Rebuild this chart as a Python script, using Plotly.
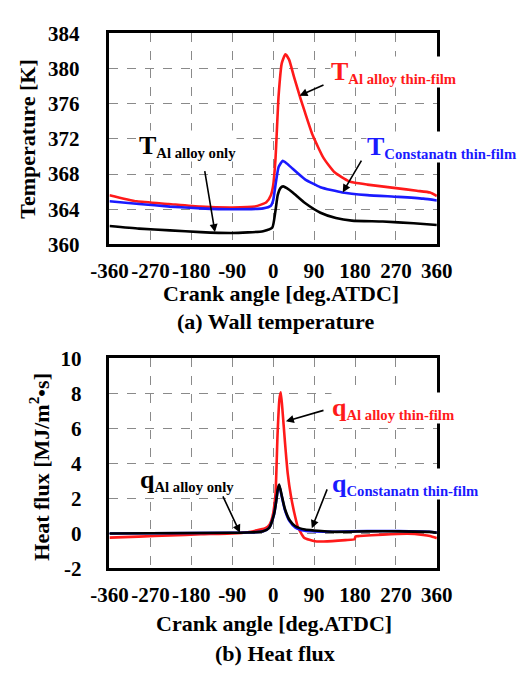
import plotly.graph_objects as go

# ---------------- data ----------------
crank_ticks = [-360, -270, -180, -90, 0, 90, 180, 270, 360]
crank_text = ["-360", "-270", "-180", "-90", "0", "90", "180", "270", "360"]
temp_ticks = [360, 364, 368, 372, 376, 380, 384]
flux_ticks = [-2, 0, 2, 4, 6, 8, 10]
flux_text = ["-2", "0", "2", "4", "6", "8", "10"]

# (a) wall temperature [K]
ang_T_al_film = [-360, -300, -230, -160, -90, -40, -15, -5, 0, 5, 12, 19, 27, 35, 46, 60, 70, 87,
                 111, 135, 166, 180, 207, 270, 316, 345, 360]
T_al_film = [365.6, 364.9, 364.6, 364.3, 364.2, 364.3, 364.8, 365.6, 366.7, 369.6, 376.9, 380.6, 381.6,
             381.0, 379.0, 376.6, 375.0, 372.4, 369.8, 368.2, 367.2, 367.0, 366.8, 366.4, 366.1, 365.9, 365.5]

ang_T_const_film = [-360, -295, -227, -159, -91, -22, -5, 0, 5, 12, 21, 30, 43, 70, 104, 152, 207, 275,
                    330, 360]
T_const_film = [364.9, 364.6, 364.3, 364.1, 364.0, 364.1, 364.4, 365.0, 366.7, 368.8, 369.5, 369.2, 368.6,
                367.4, 366.5, 365.9, 365.6, 365.4, 365.2, 365.0]

ang_T_al_only = [-360, -295, -227, -159, -91, -22, -2, 5, 10, 16, 22, 30, 43, 70, 104, 138, 173, 241,
                 309, 360]
T_al_only = [362.1, 361.8, 361.6, 361.4, 361.3, 361.5, 361.9, 363.8, 365.6, 366.4, 366.6, 366.4, 365.9,
             364.7, 363.6, 363.0, 362.7, 362.6, 362.4, 362.2]

# (b) heat flux [MJ/m2 s]
ang_q_al_film = [-360, -296, -227, -159, -91, -56, -29, -17, -8, -2, 5, 9.6, 13.7, 16.8, 20.9, 25.7, 32,
                 39, 46, 54, 68, 92, 111, 159, 179, 181, 190, 241, 296, 330, 345, 360]
q_al_film = [-0.24, -0.18, -0.11, -0.05, 0.0, 0.07, 0.22, 0.3, 0.5, 0.9, 2.2, 5.6, 7.65, 8.05, 6.9, 5.3,
             3.43, 2.15, 1.23, 0.4, -0.24, -0.45, -0.46, -0.38, -0.33, -0.18, -0.15, -0.07, -0.02, -0.09,
             -0.15, -0.27]

ang_q_const_film = [-360, -91, -56, -22, -9, 2, 7, 10, 13.3, 19, 25.7, 36, 49, 70, 90, 138, 207, 275,
                    343, 360]
q_const_film = [0.0, 0.04, 0.05, 0.12, 0.31, 1.1, 1.9, 2.45, 2.75, 2.1, 1.35, 0.7, 0.33, 0.15, 0.12, 0.1,
                0.14, 0.14, 0.1, 0.05]

ang_q_al_only = [-360, -91, -56, -22, -9, 2, 7, 10, 13.3, 19, 25.7, 36, 49, 70, 90, 138, 207, 275, 343,
                 360]
q_al_only = [0.0, 0.04, 0.05, 0.12, 0.31, 1.1, 1.9, 2.5, 2.79, 2.15, 1.41, 0.77, 0.41, 0.22, 0.17, 0.09,
             0.12, 0.12, 0.09, 0.04]

RED = "#ff1a1a"
BLUE = "#1a1aff"
BLACK = "#000000"
SERIF = "Liberation Serif, Times New Roman, serif"

fig = go.Figure()


def add_line(x, y, color, xa, ya):
    fig.add_trace(go.Scatter(x=x, y=y, mode="lines", xaxis=xa, yaxis=ya, showlegend=False,
                             line=dict(color=color, width=2.6, shape="spline", smoothing=0.5),
                             hoverinfo="skip"))


add_line(ang_T_al_film, T_al_film, RED, "x", "y")
add_line(ang_T_const_film, T_const_film, BLUE, "x", "y")
add_line(ang_T_al_only, T_al_only, BLACK, "x", "y")
add_line(ang_q_al_film, q_al_film, RED, "x2", "y2")
add_line(ang_q_const_film, q_const_film, BLUE, "x2", "y2")
add_line(ang_q_al_only, q_al_only, BLACK, "x2", "y2")

W, H = 520, 675
x_dom = [97 / W, 448 / W]
top_dom = [1 - 241 / H, 1 - 22 / H]
bot_dom = [1 - 577 / H, 1 - 359 / H]

tick_font = dict(family=SERIF, size=21, color="black", weight="bold")
axis_common = dict(showline=True, mirror=True, linecolor="black", linewidth=2.5,
                   showgrid=True, gridcolor="#8a8a8a", gridwidth=1, griddash="dash",
                   zeroline=False, ticks="", tickfont=tick_font)

fig.update_layout(
    width=W, height=H,
    margin=dict(l=0, r=0, t=0, b=0),
    paper_bgcolor="white", plot_bgcolor="white",
    xaxis=dict(domain=x_dom, range=[-360, 360], tickvals=crank_ticks, ticktext=crank_text,
               tickangle=0, anchor="y", ticklabelstandoff=6, **axis_common),
    yaxis=dict(domain=top_dom, range=[360, 384], tickvals=temp_ticks, anchor="x",
               ticklabelstandoff=23, **axis_common),
    xaxis2=dict(domain=x_dom, range=[-360, 360], tickvals=crank_ticks, ticktext=crank_text,
                tickangle=0, anchor="y2", ticklabelstandoff=6, **axis_common),
    yaxis2=dict(domain=bot_dom, range=[-2, 10], tickvals=flux_ticks, ticktext=flux_text,
                anchor="x2", ticklabelstandoff=21, **axis_common),
)

title_font = dict(family=SERIF, size=22, color="black", weight="bold")


def paper_text(text, x, y, angle=0):
    fig.add_annotation(text=text, x=x / W, y=1 - y / H, xref="paper", yref="paper",
                       showarrow=False, textangle=angle, font=title_font,
                       xanchor="center", yanchor="middle")


paper_text("Crank angle [deg.ATDC]", 281, 292)
paper_text("(a) Wall temperature", 275, 321)
paper_text("Temperature [K]", 9, 132, angle=-90)
paper_text("Crank angle [deg.ATDC]", 273, 634)
paper_text("(b) Heat flux", 275, 665)
paper_text("Heat flux [MJ/m<sup>2</sup>•s]", 22, 472, angle=-90)


def label(sym, sub, color, x, y, xa, ya):
    fig.add_annotation(
        text=f"<span style='font-size:26px'>{sym}</span><sub>{sub}</sub>",
        x=x, y=y, xref=xa, yref=ya, showarrow=False, xanchor="left", yanchor="middle",
        bgcolor="white", borderpad=0,
        font=dict(family=SERIF, size=21, color=color, weight="bold"))


def pointer(x_head, y_head, x_tail, y_tail, xa, ya):
    fig.add_annotation(text="", x=x_head, y=y_head, ax=x_tail, ay=y_tail, xref=xa, yref=ya,
                       axref=xa, ayref=ya, showarrow=True, arrowhead=2, arrowsize=1,
                       arrowwidth=1.6, arrowcolor="black")


# (a) labels
pointer(58, 376.9, 114, 378.2, "x", "y")
pointer(153, 365.9, 196, 369.7, "x", "y")
pointer(-128, 361.4, -151, 368.5, "x", "y")
label("T", "Al alloy thin-film", RED, 124, 379.6, "x", "y")
label("T", "Constanatn thin-film", BLUE, 204, 371.1, "x", "y")
label("T", "Al alloy only", BLACK, -298, 371.2, "x", "y")

# (b) labels
pointer(28, 6.4, 114, 7.05, "x2", "y2")
pointer(85, 0.3, 120, 2.6, "x2", "y2")
pointer(-73, 0.04, -112, 2.2, "x2", "y2")
label("q", "Al alloy thin-film", RED, 128, 7.15, "x2", "y2")
label("q", "Constanatn thin-film", BLUE, 128, 2.8, "x2", "y2")
label("q", "Al alloy only", BLACK, -296, 3.05, "x2", "y2")

fig.write_html("out.html")
